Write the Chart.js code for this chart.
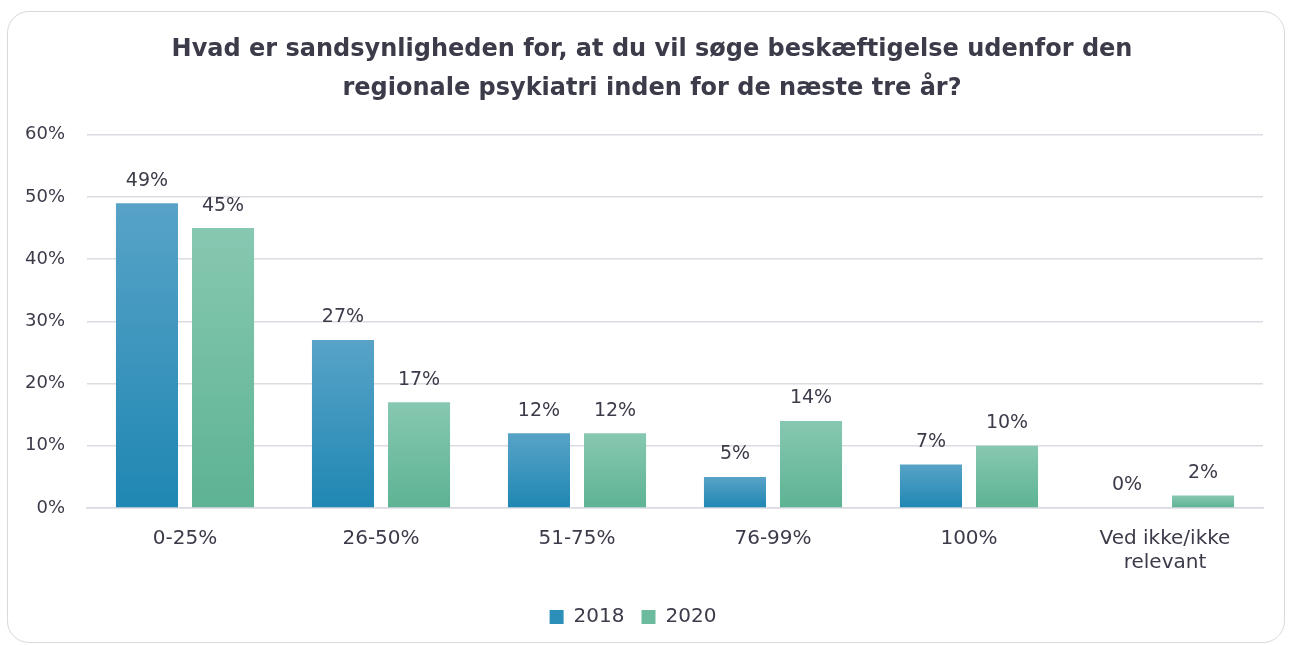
<!DOCTYPE html>
<html lang="da">
<head>
    <meta charset="UTF-8">
    <title>Beskæftigelse udenfor den regionale psykiatri</title>
    <script src="https://cdn.jsdelivr.net/npm/chart.js"></script>
    <style>
        html, body { margin: 0; padding: 0; background: #ffffff; }
        #wrap { position: relative; width: 1291px; height: 645px; }
        #frame {
            position: absolute; left: 7px; top: 11px; width: 1278px; height: 632px;
            border: 1.5px solid #d9d9de; border-radius: 22px; box-sizing: border-box;
        }
        #chart { position: absolute; left: 0; top: 0; }
    </style>
</head>
<body>
<div id="wrap">
    <div id="frame"></div>
    <canvas id="chart" width="1291" height="645"></canvas>
</div>
<script>
    // Data
    const categories = ['0-25%', '26-50%', '51-75%', '76-99%', '100%', ['Ved ikke/ikke', 'relevant']];
    const values2018 = [49, 27, 12, 5, 7, 0];
    const values2020 = [45, 17, 12, 14, 10, 2];
    const yTicks = [0, 10, 20, 30, 40, 50, 60];

    const textColor = '#3b3b4a';
    const fontFamily = '"DejaVu Sans", sans-serif';

    // vertical gradient per bar, light on top
    function barGradient(top, bottom) {
        return function (ctx) {
            const chart = ctx.chart;
            const y = chart.scales.y;
            if (!y || ctx.parsed === undefined) return bottom;
            const yTop = y.getPixelForValue(ctx.parsed.y);
            const yBase = y.getPixelForValue(0);
            if (!isFinite(yTop) || yTop === yBase) return bottom;
            const g = chart.ctx.createLinearGradient(0, yTop, 0, yBase);
            g.addColorStop(0, top);
            g.addColorStop(1, bottom);
            return g;
        };
    }

    // labels above bars
    const valueLabels = {
        id: 'valueLabels',
        afterDatasetsDraw(chart) {
            const ctx = chart.ctx;
            ctx.save();
            ctx.font = '19px ' + fontFamily;
            ctx.fillStyle = textColor;
            ctx.textAlign = 'center';
            ctx.textBaseline = 'bottom';
            chart.data.datasets.forEach((ds, i) => {
                chart.getDatasetMeta(i).data.forEach((bar, j) => {
                    ctx.fillText(ds.data[j] + '%', bar.x, bar.y - 13);
                });
            });
            ctx.restore();
        }
    };

    // the title sits a bit right of the canvas centre in the original
    const titleShift = {
        id: 'titleShift',
        afterLayout(chart) {
            if (chart.titleBlock) {
                chart.titleBlock.left += 19;
                chart.titleBlock.right += 19;
            }
        }
    };

    new Chart(document.getElementById('chart'), {
        type: 'bar',
        data: {
            labels: categories,
            datasets: [{
                label: '2018',
                data: values2018,
                backgroundColor: barGradient('#58a3c7', '#1f87b3'),
                categoryPercentage: 0.776,
                barPercentage: 0.816
            }, {
                label: '2020',
                data: values2020,
                backgroundColor: barGradient('#87c8b1', '#5db393'),
                categoryPercentage: 0.776,
                barPercentage: 0.816
            }]
        },
        options: {
            responsive: false,
            animation: false,
            devicePixelRatio: 1,
            layout: { padding: { left: 3, right: 28, top: 14, bottom: 8 } },
            plugins: {
                title: {
                    display: true,
                    text: ['Hvad er sandsynligheden for, at du vil søge beskæftigelse udenfor den',
                           'regionale psykiatri inden for de næste tre år?'],
                    color: textColor,
                    font: { family: fontFamily, size: 24, weight: 'bold', lineHeight: 1.6 },
                    padding: { top: 17, bottom: 27 }
                },
                legend: {
                    position: 'bottom',
                    labels: {
                        color: textColor,
                        font: { family: fontFamily, size: 20 },
                        boxWidth: 14,
                        boxHeight: 14,
                        padding: 17,
                        generateLabels(chart) {
                            const fills = ['#2b8fba', '#6dbb9e'];
                            return chart.data.datasets.map((ds, i) => ({
                                text: ds.label,
                                fillStyle: fills[i],
                                strokeStyle: fills[i],
                                lineWidth: 0,
                                fontColor: textColor,
                                datasetIndex: i
                            }));
                        }
                    }
                },
                tooltip: { enabled: false }
            },
            scales: {
                x: {
                    grid: { display: false },
                    border: { display: true, color: '#d9d9e0', width: 1.5 },
                    ticks: { color: textColor, font: { family: fontFamily, size: 20 }, padding: 11, maxRotation: 0 },
                    afterFit(axis) { axis.height += 4; }
                },
                y: {
                    min: 0,
                    max: 60,
                    afterBuildTicks(axis) { axis.ticks = yTicks.map(v => ({ value: v })); },
                    grid: { color: '#dcdce3', lineWidth: 1.5, drawTicks: false },
                    border: { display: false },
                    ticks: { color: textColor, font: { family: fontFamily, size: 18 }, padding: 22, callback: v => v + '%' }
                }
            }
        },
        plugins: [valueLabels, titleShift]
    });
</script>
</body>
</html>
